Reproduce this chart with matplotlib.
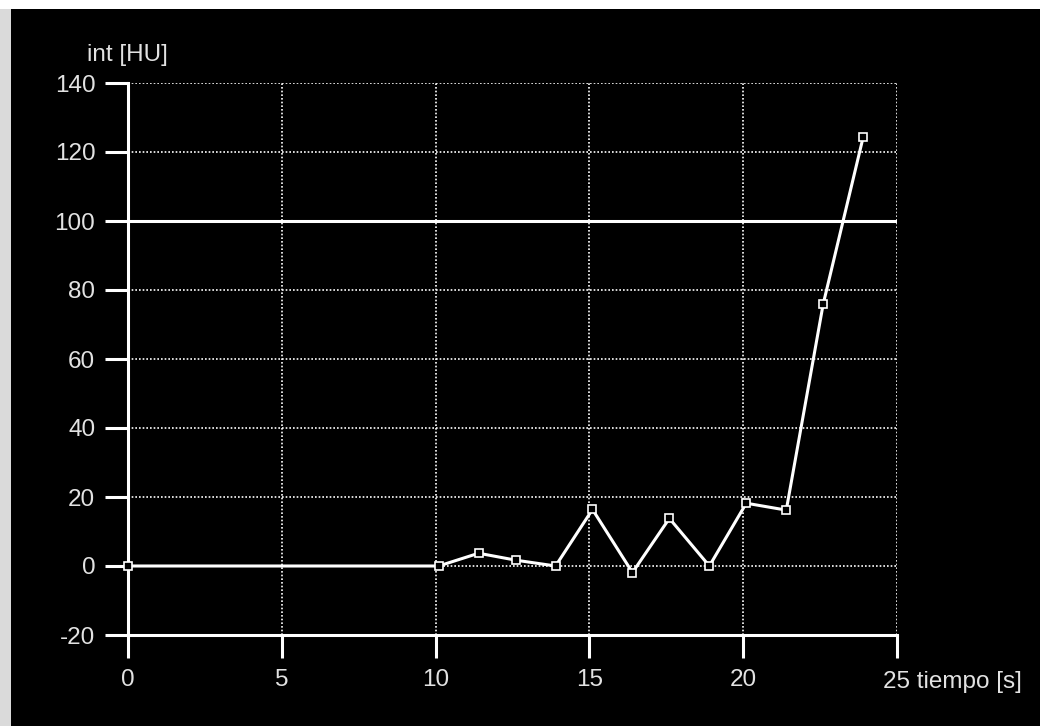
import matplotlib
matplotlib.use('Agg')
import matplotlib.pyplot as plt
from matplotlib.patches import Rectangle

# time (s) and intensity (HU)
tiempo = [0, 10.1, 11.4, 12.6, 13.9, 15.1, 16.4, 17.6, 18.9, 20.1, 21.4, 22.6, 23.9]
intensidad = [0, 0, 3.7, 1.7, 0, 16.4, -1.9, 13.8, 0, 18.2, 16.2, 75.9, 124.3]

xticks = [0, 5, 10, 15, 20, 25]
yticks = [-20, 0, 20, 40, 60, 80, 100, 120, 140]
umbral = 100

plt.rcParams['font.family'] = ['Liberation Sans', 'DejaVu Sans']
plt.rcParams['axes.unicode_minus'] = False
txt = '#e2e2e2'
fs = 17.5

fig = plt.figure(figsize=[10.4, 7.26], dpi=100, facecolor='black')
# grey strip on the left, white strip on top
fig.patches.append(Rectangle((0, 0), 11 / 1040, 1, transform=fig.transFigure,
                             facecolor='#dadada', edgecolor='none', zorder=-10))
fig.patches.append(Rectangle((0, (726 - 9) / 726), 1, 1, transform=fig.transFigure,
                             facecolor='white', edgecolor='none', zorder=-10))

ax = fig.add_axes([128 / 1040, 91 / 726, 769 / 1040, 552 / 726])
ax.set_facecolor('black')
ax.set_xlim(0, 25)
ax.set_ylim(-20, 140)

ax.grid(True, color='white', linestyle=(0, (1, 1.2)), linewidth=1.2)
ax.set_axisbelow(True)

for s in ['top', 'right']:
    ax.spines[s].set_visible(False)
for s in ['left', 'bottom']:
    ax.spines[s].set_color('white')
    ax.spines[s].set_linewidth(2.2)
    ax.spines[s].set_zorder(3)

ax.axhline(umbral, color='white', linewidth=2.2, zorder=3)

ax.plot(tiempo, intensidad, color='white', linewidth=2.2, marker='s',
        markersize=5.5, markerfacecolor='black', markeredgecolor='white',
        markeredgewidth=1.2, zorder=4, clip_on=False)

ax.set_xticks(xticks)
ax.set_yticks(yticks)
ax.set_xticklabels([str(t) for t in xticks[:-1]] + [''])
ax.tick_params(axis='both', colors='white', width=2.2, length=16.5,
               labelcolor=txt, labelsize=fs)
ax.tick_params(axis='x', pad=8)
ax.tick_params(axis='y', pad=7)

# last x tick label carries the axis name
ax.annotate('25 tiempo [s]', xy=(25, -20), xycoords='data', xytext=(-14, -47),
            textcoords='offset pixels', ha='left', va='center',
            color=txt, fontsize=fs)
fig.text(87 / 1040, 1 - 55 / 726, 'int [HU]', ha='left', va='center',
         color=txt, fontsize=fs)

fig.savefig('out.png', dpi=100, facecolor=fig.get_facecolor())
